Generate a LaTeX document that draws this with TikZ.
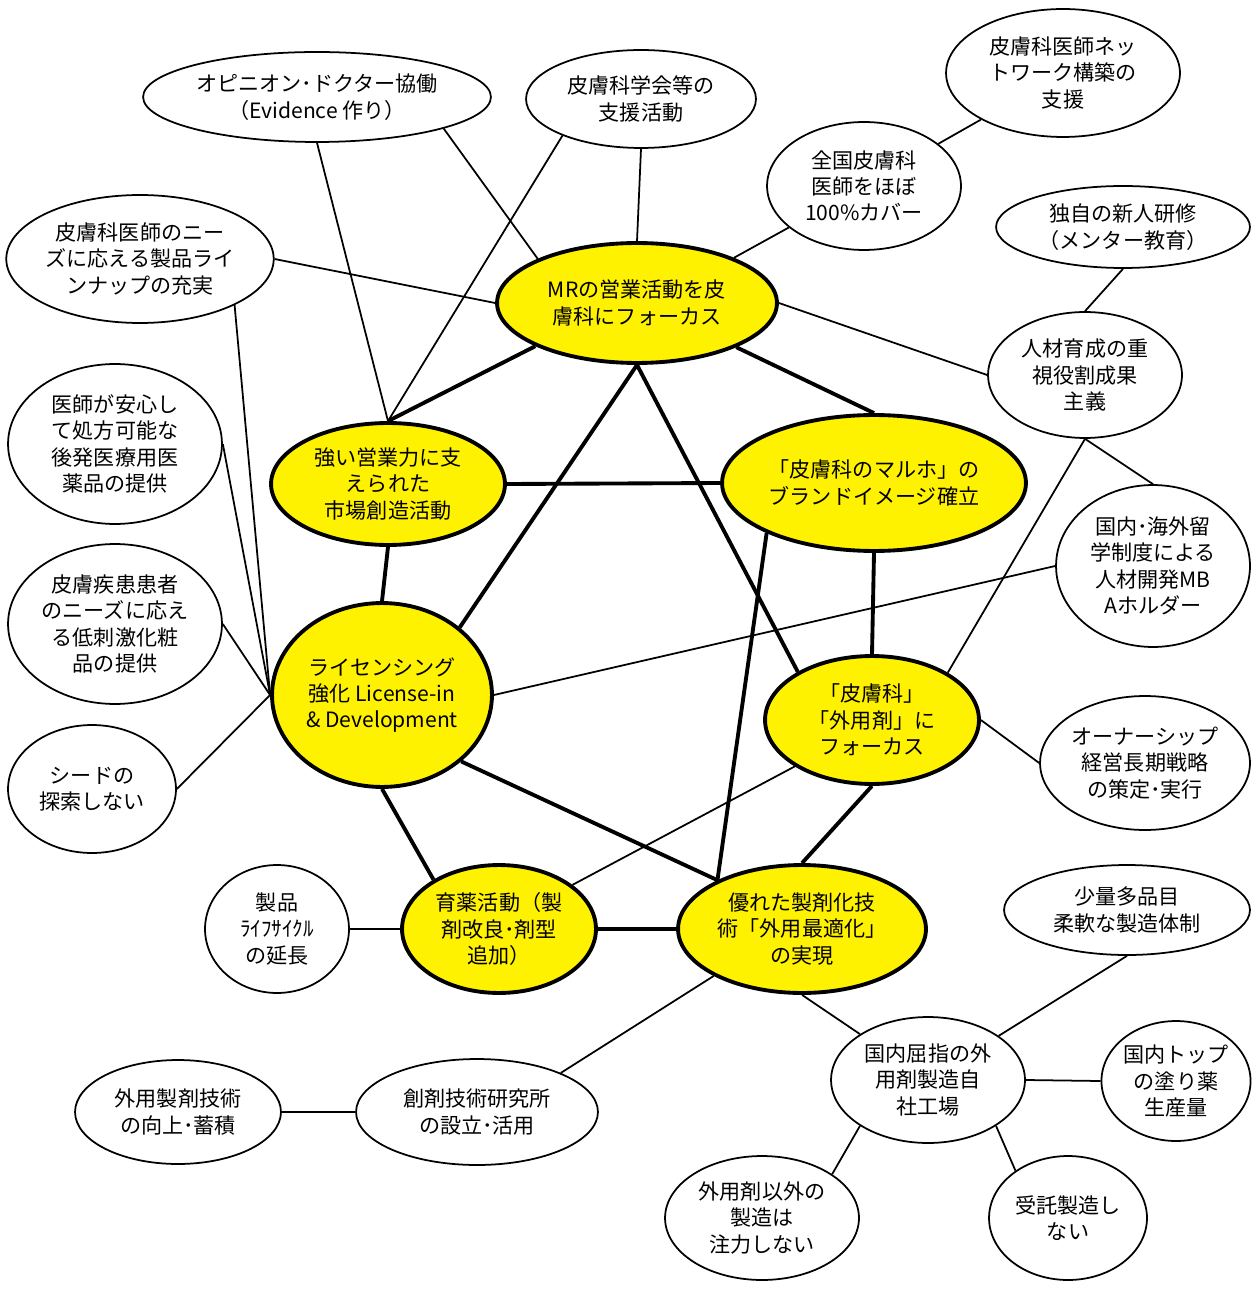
\documentclass[tikz,border=0pt]{standalone}
\usepackage{fontspec}
\setmainfont{Noto Sans CJK JP}
\usetikzlibrary{shapes.geometric}
\tikzset {
  bubble/.style = {
    draw = black,
    ellipse,
    inner sep = 0pt,
    align = center,
    font = \fontsize{12pt}{15pt}\selectfont
  },
  % core strategy
  core/.style = {
    bubble,
    fill = yellow,
    line width = 2.2pt
  },
  % supporting measure
  aux/.style = {
    bubble,
    fill = white,
    line width = 1pt
  },
  % half axes of the ellipse, given in pixels
  radii/.style 2 args = {
    minimum width = #1*0.04cm,
    minimum height = #2*0.04cm
  }
}
\tikzset {
  % link between two core nodes
  bond/.style = {
    draw = black,
    line width = 2.2pt
  },
  % link to a supporting measure
  nbond/.style = {
    draw = black,
    line width = 1pt
  }
}

\begin{document}
\begin{tikzpicture}[x=0.02cm, y=-0.02cm]
    \useasboundingbox (0,0) rectangle (1255,1293);

    % core nodes
    \node[core, radii={140}{60}] (mr) at (637,303) {MRの営業活動を皮\\膚科にフォーカス};
    \node[core, radii={117}{61}] (strong) at (388,484) {強い営業力に支\\えられた\\市場創造活動};
    \node[core, radii={152}{68}] (brand) at (874,483) {「皮膚科のマルホ」の\\ブランドイメージ確立};
    \node[core, radii={110}{92}] (lic) at (382,695) {ライセンシング\\強化 License-in\\\& Development};
    \node[core, radii={107}{64}] (focus) at (872,720) {「皮膚科」\\「外用剤」に\\フォーカス};
    \node[core, radii={97}{64}] (ikuyaku) at (499,929) {育薬活動（製\\剤改良･剤型\\追加）};
    \node[core, radii={124}{64}] (tech) at (802,929) {優れた製剤化技\\術「外用最適化」\\の実現};

    % top row
    \node[aux, radii={174}{45}] (opin) at (317,97) {オピニオン･ドクター協働\\（Evidence 作り）};
    \node[aux, radii={115}{49}] (gakkai) at (641,99) {皮膚科学会等の\\支援活動};
    \node[aux, radii={117}{64}] (network) at (1063,73) {皮膚科医師ネッ\\トワーク構築の\\支援};
    \node[aux, radii={97}{64}] (zenkoku) at (864,186) {全国皮膚科\\医師をほぼ\\100\%カバー};

    % right side
    \node[aux, radii={127}{41}] (shinjin) at (1123,227) {独自の新人研修\\（メンター教育）};
    \node[aux, radii={97}{63}] (jinzai) at (1085,375) {人材育成の重\\視役割成果\\主義};
    \node[aux, radii={97}{81}] (ryugaku) at (1153,566) {国内･海外留\\学制度による\\人材開発MB\\Aホルダー};
    \node[aux, radii={105}{67}] (owner) at (1145,763) {オーナーシップ\\経営長期戦略\\の策定･実行};

    % left side
    \node[aux, radii={133}{64}] (lineup) at (140,259) {皮膚科医師のニー\\ズに応える製品ライ\\ンナップの充実};
    \node[aux, radii={107}{80}] (kouhatsu) at (115,444) {医師が安心し\\て処方可能な\\後発医療用医\\薬品の提供};
    \node[aux, radii={107}{80}] (teishigeki) at (115,624) {皮膚疾患患者\\のニーズに応え\\る低刺激化粧\\品の提供};
    \node[aux, radii={84}{64}] (seed) at (92,789) {シードの\\探索しない};

    % bottom
    \node[aux, radii={72}{64}] (lifecycle) at (277,929) {製品\\ﾗｲﾌｻｲｸﾙ\\の延長};
    \node[aux, radii={103}{52}] (gaiyo) at (178,1112) {外用製剤技術\\の向上･蓄積};
    \node[aux, radii={121}{53}] (souzai) at (477,1112) {創剤技術研究所\\の設立･活用};
    \node[aux, radii={123}{45}] (shoryo) at (1127,910) {少量多品目\\柔軟な製造体制};
    \node[aux, radii={97}{63}] (jisha) at (928,1080) {国内屈指の外\\用剤製造自\\社工場};
    \node[aux, radii={74}{60}] (toppro) at (1176,1081) {国内トップ\\の塗り薬\\生産量};
    \node[aux, radii={97}{62}] (igai) at (762,1218) {外用剤以外の\\製造は\\注力しない};
    \node[aux, radii={79}{62}] (jutaku) at (1068,1218) {受託製造し\\ない};

    % core links
    \draw[bond] (mr.203) -- (strong.north);
    \draw[bond] (mr.336) -- (brand.north);
    \draw[bond] (mr.south) -- (lic.41);
    \draw[bond] (mr.south) -- (focus.147);
    \draw[bond] (strong.east) -- (brand.west);
    \draw[bond] (strong.south) -- (lic.north);
    \draw[bond] (brand.south) -- (focus.north);
    \draw[bond] (brand.205) -- (tech.150);
    \draw[bond] (lic.320) -- (tech.150);
    \draw[bond] (lic.south) -- (ikuyaku.143);
    \draw[bond] (focus.south) -- (tech.north);
    \draw[bond] (ikuyaku.east) -- (tech.west);

    % top links
    \draw[nbond] (opin.south) -- (strong.north);
    \draw[nbond] (opin.346) -- (mr.156);
    \draw[nbond] (gakkai.205) -- (strong.north);
    \draw[nbond] (gakkai.south) -- (mr.north);
    \draw[nbond] (zenkoku) -- (mr.25);
    \draw[nbond] (zenkoku) -- (network);

    % right links
    \draw[nbond] (shinjin.south) -- (jinzai.north);
    \draw[nbond] (jinzai.west) -- (mr.east);
    \draw[nbond] (jinzai.south) -- (ryugaku.north);
    \draw[nbond] (jinzai.south) -- (focus.32);
    \draw[nbond] (ryugaku.west) -- (lic.east);
    \draw[nbond] (owner.west) -- (focus.east);

    % left rail into licensing
    \draw[nbond] (lineup.east) -- (mr.west);
    \draw[nbond] (lineup.334) -- (lic.west);
    \draw[nbond] (kouhatsu.east) -- (lic.west);
    \draw[nbond] (teishigeki.east) -- (lic.west);
    \draw[nbond] (seed.east) -- (lic.west);

    % bottom links
    \draw[nbond] (ikuyaku.31) -- (focus.211);
    \draw[nbond] (lifecycle.east) -- (ikuyaku.west);
    \draw[nbond] (souzai.25) -- (tech.208);
    \draw[nbond] (gaiyo.east) -- (souzai.west);
    \draw[nbond] (jisha.146) -- (tech.south);
    \draw[nbond] (jisha.32) -- (shoryo.south);
    \draw[nbond] (jisha.east) -- (toppro.west);
    \draw[nbond] (jisha.214) -- (igai.32);
    \draw[nbond] (jisha.326) -- (jutaku.138);
\end{tikzpicture}
\end{document}
